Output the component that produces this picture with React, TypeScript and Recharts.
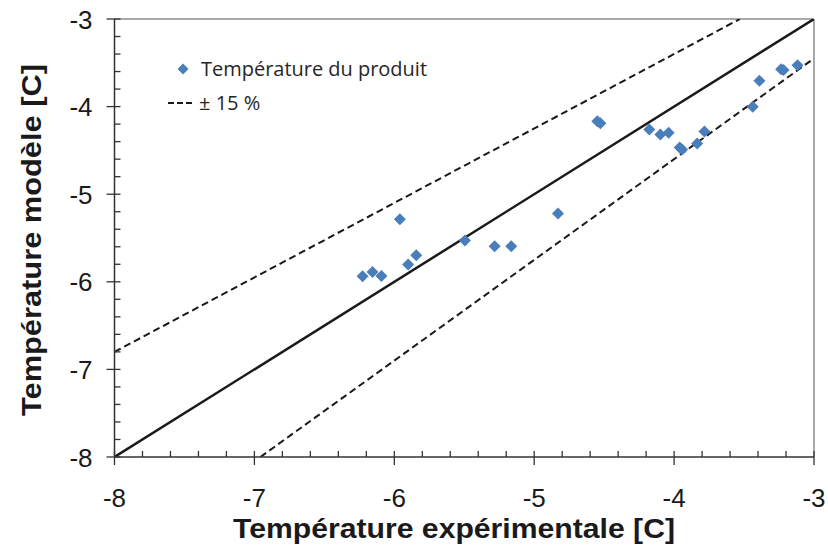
import React from 'react';
import { ComposedChart, Scatter, Line, XAxis, YAxis, ReferenceLine, Legend } from 'recharts';

// Measured points: experimental temperature (x) vs model temperature (y)
const expTemp = [
  -6.227, -6.156, -6.092, -5.960, -5.901, -5.843, -5.495, -5.283, -5.164, -4.830,
  -4.549, -4.527, -4.177, -4.098, -4.039, -3.960, -3.943, -3.835, -3.783, -3.438,
  -3.390, -3.235, -3.218, -3.118,
];
const modelTemp = [
  -5.937, -5.888, -5.934, -5.286, -5.803, -5.697, -5.529, -5.594, -5.594, -5.221,
  -4.166, -4.189, -4.261, -4.318, -4.299, -4.466, -4.489, -4.421, -4.283, -4.002,
  -3.705, -3.575, -3.583, -3.529,
];

// Reference lines (y = x and ±15 %)
const identityX = [-8, -3];
const identityY = [-8, -3];
const upperX = [-8, -3.53];
const upperY = [-6.8, -3];
const lowerX = [-6.957, -3];
const lowerY = [-8, -3.45];

const majorTicks = [-8, -7, -6, -5, -4, -3];
const minorTicks = [
  -8, -7.8, -7.6, -7.4, -7.2, -7, -6.8, -6.6, -6.4, -6.2, -6, -5.8, -5.6,
  -5.4, -5.2, -5, -4.8, -4.6, -4.4, -4.2, -4, -3.8, -3.6, -3.4, -3.2, -3,
];

const seriesName = 'Température du produit';
const bandName = '± 15 %';
const xTitle = 'Température expérimentale [C]';
const yTitle = 'Température modèle [C]';

const zip = (xs: number[], ys: number[]) => xs.map((x, i) => ({ x, y: ys[i] }));
const points = zip(expTemp, modelTemp);
const identity = zip(identityX, identityY);
const upper = zip(upperX, upperY);
const lower = zip(lowerX, lowerY);

const AXIS = '#333';
const TEXT = '#1a1a1a';
const BLUE = '#4A7EBB';
const FONT = '"Liberation Sans", Arial, sans-serif';

const XTick = (props: any) => {
  const { x, y, payload } = props;
  const v = payload.value;
  if (!majorTicks.includes(v)) {
    return <line x1={x} x2={x} y1={y} y2={y - 6} stroke={AXIS} strokeWidth={1.3} />;
  }
  return (
    <g>
      <line x1={x} x2={x} y1={y - 6} y2={y + 8} stroke={AXIS} strokeWidth={1.3} />
      <text x={x} y={y + 50} textAnchor="middle" fontSize={26} fontFamily={FONT} fill={TEXT}>
        {String(v)}
      </text>
    </g>
  );
};

const YTick = (props: any) => {
  const { x, y, payload } = props;
  const v = payload.value;
  if (!majorTicks.includes(v)) {
    return <line x1={x} x2={x + 6} y1={y} y2={y} stroke={AXIS} strokeWidth={1.3} />;
  }
  return (
    <g>
      <line x1={x - 8} x2={x + 6} y1={y} y2={y} stroke={AXIS} strokeWidth={1.3} />
      <text x={x - 22} y={y + 9.5} textAnchor="end" fontSize={26} fontFamily={FONT} fill={TEXT}>
        {String(v)}
      </text>
    </g>
  );
};

const Diamond = (props: any) => {
  const { cx, cy } = props;
  const r = 6;
  return (
    <polygon
      points={`${cx},${cy - r} ${cx + r},${cy} ${cx},${cy + r} ${cx - r},${cy}`}
      fill={BLUE}
    />
  );
};

const XTitle = () => (
  <text
    x={454}
    y={538}
    textAnchor="middle"
    fontSize={28}
    fontWeight="bold"
    fontFamily={FONT}
    fill={TEXT}
    textLength={442}
    lengthAdjust="spacingAndGlyphs"
  >
    {xTitle}
  </text>
);

const YTitle = () => (
  <text
    x={41}
    y={240}
    transform="rotate(-90 41 240)"
    textAnchor="middle"
    fontSize={28}
    fontWeight="bold"
    fontFamily={FONT}
    fill={TEXT}
    textLength={352}
    lengthAdjust="spacingAndGlyphs"
  >
    {yTitle}
  </text>
);

const LegendBox = () => (
  <svg width={460} height={130} style={{ display: 'block', overflow: 'visible' }}>
    <polygon points="183,63.5 188.5,69 183,74.5 177.5,69" fill={BLUE} />
    <text
      x={201}
      y={75.5}
      fontSize={20}
      fontFamily='"Open Sans", sans-serif'
      fill="#262626"
      textLength={226}
      lengthAdjust="spacingAndGlyphs"
    >
      {seriesName}
    </text>
    <line x1={168} x2={192} y1={103} y2={103} stroke={TEXT} strokeWidth={2} strokeDasharray="6 3" />
    <text
      x={199}
      y={109.5}
      fontSize={20}
      fontFamily='"Open Sans", sans-serif'
      fill="#262626"
    >
      {bandName}
    </text>
  </svg>
);

export default function App() {
  return (
    <div style={{ position: 'absolute', left: 0, top: 0, width: 828, height: 551, background: '#fff' }}>
      <ComposedChart
        width={828}
        height={551}
        margin={{ top: 19, right: 14, bottom: 0, left: 0 }}
      >
        <XAxis
          dataKey="x"
          type="number"
          domain={[-8, -3]}
          ticks={minorTicks}
          interval={0}
          allowDataOverflow
          height={94}
          tickSize={0}
          tickMargin={0}
          tickLine={false}
          tick={<XTick />}
          axisLine={{ stroke: AXIS, strokeWidth: 1.5 }}
          label={<XTitle />}
        />
        <YAxis
          dataKey="y"
          type="number"
          domain={[-8, -3]}
          ticks={minorTicks}
          interval={0}
          allowDataOverflow
          width={114.5}
          tickSize={0}
          tickMargin={0}
          tickLine={false}
          tick={<YTick />}
          axisLine={{ stroke: AXIS, strokeWidth: 1.5 }}
          label={<YTitle />}
        />
        <ReferenceLine y={-3} stroke="#8c8c8c" strokeWidth={1.5} />
        <ReferenceLine x={-3} stroke="#8c8c8c" strokeWidth={1.5} />
        <Line
          data={upper}
          dataKey="y"
          stroke={TEXT}
          strokeWidth={2}
          strokeDasharray="7 4"
          dot={false}
          isAnimationActive={false}
          legendType="none"
        />
        <Line
          data={lower}
          dataKey="y"
          stroke={TEXT}
          strokeWidth={2}
          strokeDasharray="7 4"
          dot={false}
          isAnimationActive={false}
          legendType="none"
        />
        <Line
          data={identity}
          dataKey="y"
          stroke={TEXT}
          strokeWidth={2.5}
          dot={false}
          isAnimationActive={false}
          legendType="none"
        />
        <Scatter
          data={points}
          dataKey="y"
          name={seriesName}
          shape={<Diamond />}
          isAnimationActive={false}
        />
        <Legend
          layout="vertical"
          align="center"
          verticalAlign="middle"
          wrapperStyle={{ left: 0, top: 0, width: 460, height: 130 }}
          content={() => <LegendBox />}
        />
      </ComposedChart>
    </div>
  );
}
